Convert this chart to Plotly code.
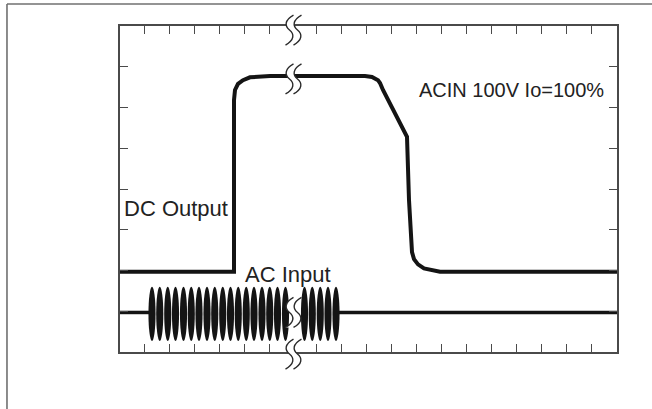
import plotly.graph_objects as go

# ---------------- data (x in divisions, y in divisions) ----------------
X_MAX = 19.88
Y_MAX = 8.0

X_TICKS = [0.97, 1.97, 2.97, 3.97, 4.97, 5.97,
           7.84, 8.84, 9.84, 10.84, 11.84, 12.84, 13.84, 14.84, 15.84, 16.84, 17.84, 18.84]
Y_TICKS = [1, 2, 3, 4, 5, 6, 7]

DC_X = [0.0, 4.56, 4.56, 4.60, 4.72, 4.92, 5.20, 5.60, 6.00, 9.80, 10.08, 10.32, 10.40,
        10.52, 11.48, 11.56, 11.66, 11.68, 11.76, 11.92, 12.16, 12.48, 12.80, 19.88]
DC_Y = [1.97, 1.97, 6.18, 6.43, 6.58, 6.67, 6.74, 6.76, 6.77, 6.77, 6.75, 6.67, 6.60,
        6.43, 5.28, 3.73, 2.63, 2.45, 2.28, 2.15, 2.05, 2.00, 1.97, 1.97]

AC_BASE_LEFT_X = [0.0, 1.16]
AC_BASE_RIGHT_X = [8.74, 19.88]
AC_BASE_Y = 0.97
AC_PEAK = 1.60
AC_TROUGH = 0.27

# centres of the AC-input cycles (one black lobe per cycle)
AC_LEFT_CENTERS = [1.28, 1.59, 1.91, 2.22, 2.54, 2.85, 3.16, 3.48, 3.79, 4.11, 4.42, 4.73,
                   5.05, 5.36, 5.68, 5.99, 6.30, 6.62]
AC_RIGHT_CENTERS = [7.38, 7.69, 8.01, 8.32, 8.64]

BREAK_X = 6.92
BREAK_Y = [7.90, 6.70, 0.97, -0.05]

LABELS = ["ACIN 100V Io=100%", "DC Output", "AC Input", "100ms／DIV", "20ms／DIV"]

# ---------------- figure ----------------
LINE = "#141414"
AX = "#4a4a4a"
TXT = "#222222"
FONT = "Liberation Sans, Arial, Noto Sans CJK JP, sans-serif"
LOBE_HALF = 0.142

fig = go.Figure()
fig.add_trace(go.Scatter(x=DC_X, y=DC_Y, mode="lines",
                         line=dict(color=LINE, width=4)))
fig.add_trace(go.Scatter(x=AC_BASE_LEFT_X, y=[AC_BASE_Y] * len(AC_BASE_LEFT_X), mode="lines",
                         line=dict(color=LINE, width=3.5)))
fig.add_trace(go.Scatter(x=AC_BASE_RIGHT_X, y=[AC_BASE_Y] * len(AC_BASE_RIGHT_X), mode="lines",
                         line=dict(color=LINE, width=3.5)))

shapes = []
for c in AC_LEFT_CENTERS + AC_RIGHT_CENTERS:
    shapes.append(dict(type="circle", xref="x", yref="y",
                       x0=c - LOBE_HALF, x1=c + LOBE_HALF, y0=AC_TROUGH, y1=AC_PEAK,
                       fillcolor=LINE, line=dict(width=0), layer="above"))

# break marks (double squiggle)
def squiggle(dx):
    return (f"M {dx+4},15 C {dx-5},10 {dx-5},4 {dx},0 "
            f"C {dx+5},-4 {dx+5},-10 {dx-4},-15")

gap_path = ("M 0.5,15 C -8.5,10 -8.5,4 -3.5,0 C 1.5,-4 1.5,-10 -7.5,-15 "
            "L 0.5,-15 C 9.5,-10 9.5,-4 4.5,0 C -0.5,4 -0.5,10 8.5,15 Z")

xa = BREAK_X / X_MAX
for by in BREAK_Y:
    ya = by / Y_MAX
    common = dict(xref="paper", yref="paper", xsizemode="pixel", ysizemode="pixel",
                  xanchor=xa, yanchor=ya, layer="above")
    shapes.append(dict(type="path", path=gap_path, fillcolor="white",
                       line=dict(width=0), **common))
    for dx in (-3.5, 4.5):
        shapes.append(dict(type="path", path=squiggle(dx),
                           line=dict(color="#2a2a2a", width=1.4), **common))

# outer frame (top and left only)
shapes.append(dict(type="line", xref="paper", yref="paper",
                   x0=-0.2274, x1=1.08, y0=1.0675, y1=1.0675,
                   line=dict(color="#707070", width=1.6)))
shapes.append(dict(type="line", xref="paper", yref="paper",
                   x0=-0.2274, x1=-0.2274, y0=1.0675, y1=-0.2,
                   line=dict(color="#707070", width=1.6)))

annotations = [
    dict(x=19.44, y=6.43, text=LABELS[0], xanchor="right", yanchor="middle", size=20),
    dict(x=0.08, y=3.53, text=LABELS[1], xanchor="left", yanchor="middle", size=22),
    dict(x=4.92, y=1.89, text=LABELS[2], xanchor="left", yanchor="middle", size=22),
    dict(x=1.60, y=-0.45, text=LABELS[3], xanchor="left", yanchor="middle", size=21),
    dict(x=19.88, y=-0.46, text=LABELS[4], xanchor="right", yanchor="middle", size=21),
]
for a in annotations:
    s = a.pop("size")
    a.update(xref="x", yref="y", showarrow=False,
             font=dict(family=FONT, size=s, color=TXT), bgcolor="rgba(0,0,0,0)")

fig.update_layout(
    width=652, height=409,
    margin=dict(l=120, r=35, t=26, b=57),
    paper_bgcolor="white", plot_bgcolor="white",
    showlegend=False,
    shapes=shapes,
    annotations=annotations,
    xaxis=dict(range=[0, X_MAX], showgrid=False, zeroline=False, showline=True,
               linecolor=AX, linewidth=1.5, mirror="ticks", ticks="inside",
               tickvals=X_TICKS, ticklen=8, tickwidth=1.4, tickcolor=AX,
               showticklabels=False, fixedrange=True),
    yaxis=dict(range=[0, Y_MAX], showgrid=False, zeroline=False, showline=True,
               linecolor=AX, linewidth=1.5, mirror="ticks", ticks="inside",
               tickvals=Y_TICKS, ticklen=8, tickwidth=1.4, tickcolor=AX,
               showticklabels=False, fixedrange=True),
)

fig.write_html("out.html", config={"displayModeBar": False})
